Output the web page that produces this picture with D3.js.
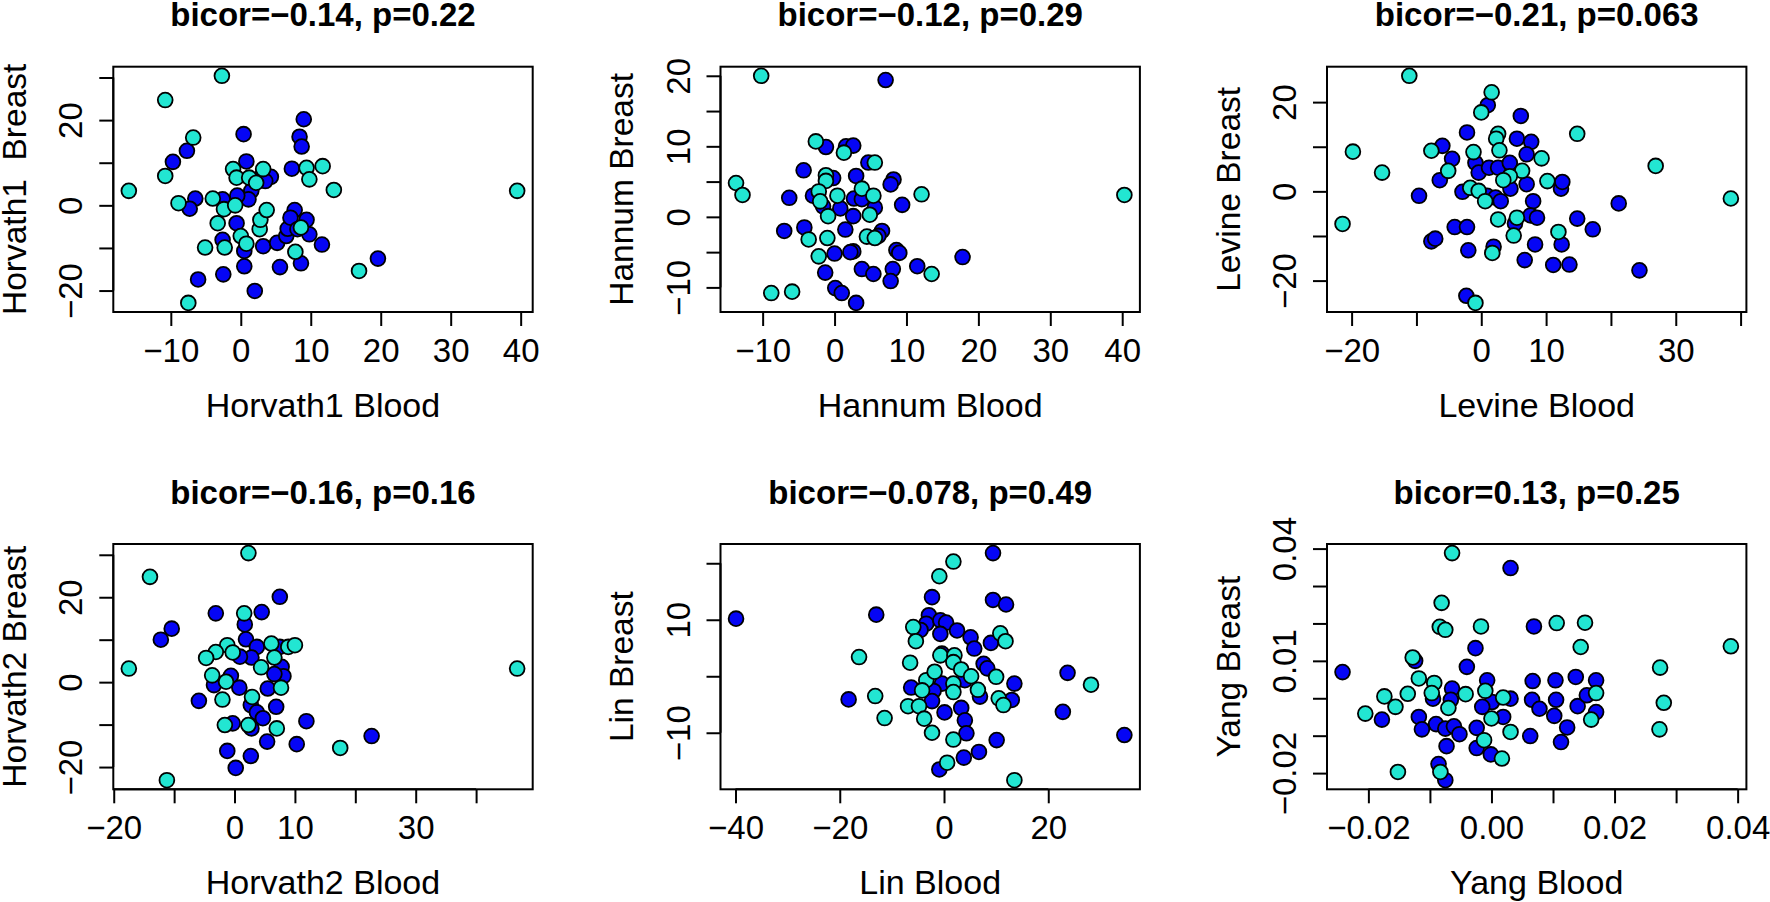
<!DOCTYPE html>
<html>
<head>
<meta charset="utf-8">
<script src="https://cdn.jsdelivr.net/npm/d3@7"></script>
<style>
  body { margin: 0; background: #fff; }
  text { font-family: "Liberation Sans", Arial, Helvetica, sans-serif; fill: #000; }
</style>
</head>
<body>
<div id="chart"></div>
<script>
    // values: [blood, breast]
    const horvath1Turq = [[-2.7,30.4],[-10.8,24.7],[-6.8,15.9],[-10.8,6.9],[-16.0,3.4],[-8.9,0.5],[-4.0,1.6],[-2.4,-0.9],[-0.8,0],[-3.3,-4.2],[-5.1,-9.9],[-2.3,-9.9],[-7.5,-22.9],[-1.1,8.5],[-0.6,6.5],[1.2,6.5],[2.2,5.3],[3.2,8.5],[0,-7.2],[0.8,-9.0],[2.7,-5.6],[2.8,-3.4],[3.7,-1.1],[9.4,8.8],[11.7,9.2],[9.8,6.1],[13.3,3.6],[7.8,-10.9],[16.9,-15.4],[39.5,3.4],[8.6,-5.2]];
    const horvath1Blue = [[9.0,20.2],[8.4,16.1],[8.7,13.8],[0.4,16.7],[-7.7,12.8],[-9.7,10.2],[0.8,10.3],[7.3,8.6],[3.2,7.7],[4.3,6.7],[3.5,5.7],[1.5,3.4],[1.1,1.4],[-0.5,2.3],[-6.5,1.6],[-7.3,-0.8],[-2.6,1.4],[-0.6,-4.2],[-2.6,-8.1],[0.5,-10.7],[0.5,-14.3],[-2.5,-16.2],[-6.1,-17.4],[2.0,-20.1],[3.2,-9.6],[5.2,-8.8],[5.6,-14.5],[6.5,-7.2],[6.7,-5.5],[7.7,-1.1],[7.1,-2.9],[8.1,-5.6],[9.4,-3.4],[9.8,-6.8],[11.6,-9.2],[8.6,-13.6],[19.6,-12.5]];

    const hannumTurq = [[-10.2,20.0],[-13.7,4.8],[-12.8,3.1],[-8.8,-10.8],[-5.9,-10.6],[-2.6,10.7],[1.3,9.1],[-1.2,5.9],[-1.2,5.1],[-2.2,3.6],[-2.0,2.2],[0.4,3.0],[-0.9,0.1],[3.8,4.0],[5.4,3.0],[4.9,0.3],[5.6,7.7],[-3.6,-3.2],[-1.0,-3.0],[-2.2,-5.6],[4.5,-2.8],[5.6,-3.0],[12.1,3.2],[13.5,-8.1],[40.3,3.1]];
    const hannumBlue = [[7.1,19.4],[-1.2,9.9],[1.6,10.0],[2.6,10.1],[-4.3,6.6],[-0.2,5.5],[3.0,5.8],[4.7,7.7],[8.2,5.3],[7.8,4.6],[9.4,1.7],[-6.3,2.7],[-3.0,3.0],[-1.6,1.5],[0.8,1.2],[2.7,2.6],[3.8,2.5],[5.6,1.3],[2.6,0.1],[-4.2,-1.5],[-7.0,-2.0],[1.5,-1.8],[6.6,-2.0],[6.1,-2.7],[0,-5.2],[2.6,-4.9],[2.2,-5.0],[8.6,-4.7],[9.0,-5.1],[-1.3,-7.9],[3.8,-7.4],[5.4,-8.1],[8.1,-7.4],[7.8,-9.1],[11.5,-7.0],[17.8,-5.7],[0.1,-10.1],[1.0,-10.8],[3.0,-12.2]];

    const levineTurq = [[-11.1,25.9],[-19.8,8.9],[-15.3,4.2],[-21.4,-7.3],[1.6,22.2],[0,17.7],[-7.7,9.1],[-5.1,4.6],[-1.2,8.8],[2.6,12.9],[2.3,11.8],[2.8,9.2],[9.3,7.4],[6.3,4.6],[4.4,3.4],[3.4,2.5],[10.2,2.3],[-1.7,0.8],[-0.4,0.1],[0.6,-2.2],[2.6,-6.3],[5.5,-5.9],[5.0,-9.9],[11.9,-9.1],[1.7,-13.8],[-0.9,-25.0],[14.8,12.9],[26.9,5.7],[38.5,-1.6]];
    const levineBlue = [[1.0,19.3],[6.1,16.9],[-2.2,13.2],[-6.0,10.2],[-4.5,7.3],[-6.4,2.5],[-9.6,-1.0],[-2.9,-0.1],[-0.9,6.4],[-0.4,4.2],[1.2,5.3],[2.6,5.3],[4.4,6.4],[5.5,11.8],[7.7,11.1],[7.0,8.3],[7.0,1.6],[4.5,0.6],[0.9,-1.0],[2.2,-1.4],[3.0,-2.2],[8.0,-2.2],[12.3,0.6],[12.5,2.1],[7.6,-5.4],[8.6,-5.9],[5.2,-7.2],[-4.1,-8.0],[-2.2,-8.0],[-7.7,-11.2],[-7.1,-10.6],[-2.0,-13.2],[1.9,-12.4],[8.3,-11.9],[12.4,-11.9],[6.7,-15.4],[11.1,-16.5],[13.6,-16.4],[14.8,-6.1],[17.2,-8.5],[21.2,-2.7],[24.4,-17.7],[-2.3,-23.4]];

    const horvath2Turq = [[2.3,30.4],[-14.0,24.8],[-17.5,3.2],[-11.2,-23.1],[1.6,16.2],[-1.2,8.7],[-0.3,7.0],[-3.1,7.1],[-4.7,5.7],[-3.7,1.6],[-1.4,0.1],[-2.0,-4.1],[-1.6,-10.1],[2.3,-10.1],[2.9,-3.5],[4.4,3.5],[6.1,9.1],[6.6,5.8],[8.9,8.3],[10.0,8.7],[7.7,-1.3],[7.0,-10.9],[17.5,-15.5],[46.8,3.2]];
    const horvath2Blue = [[7.5,20.1],[-3.1,16.2],[4.5,16.5],[-10.4,12.6],[-12.2,10.0],[1.7,13.6],[1.9,10.1],[3.7,8.3],[2.8,5.8],[0.9,6.0],[7.5,8.3],[7.8,3.6],[8.1,1.4],[6.6,1.9],[5.5,-1.5],[-0.6,1.5],[-3.4,-0.7],[0.8,-1.3],[-5.9,-4.4],[2.7,-5.4],[3.7,-7.1],[6.9,-5.8],[4.7,-8.5],[-0.3,-9.7],[2.8,-10.9],[11.9,-9.2],[5.4,-14.0],[10.3,-14.6],[-1.2,-16.2],[2.7,-17.4],[0.2,-20.2],[22.7,-12.7]];

    const linTurq = [[1.8,20.3],[-0.9,17.7],[-16.3,3.4],[-13.2,-3.5],[-11.4,-7.4],[-5.9,8.7],[-5.4,6.2],[-6.5,2.4],[-6.9,-5.3],[-4.8,-5.3],[-3.8,-7.5],[-2.3,-10.0],[-3.4,-0.7],[-1.8,0.8],[-4.2,-2.5],[-0.7,3.7],[2.0,3.7],[1.8,2.5],[3.3,1.2],[1.8,-1.3],[1.8,-2.8],[5.2,0],[6.5,-2.4],[10.0,-0.1],[10.8,7.6],[11.8,6.2],[10.5,-3.9],[11.4,-5.1],[1.8,-11.2],[0.6,-15.3],[13.5,-18.4],[28.2,-1.5]];
    const linBlue = [[9.4,21.8],[-39.9,10.2],[-13.0,10.9],[-18.3,-4.1],[-2.3,14.0],[9.4,13.5],[11.9,12.7],[-2.9,10.8],[-3.4,9.3],[-4.5,8.2],[-0.7,9.9],[0.4,9.5],[2.5,8.1],[-0.7,7.5],[5.1,6.9],[5.8,4.9],[9.0,5.9],[-0.4,4.0],[7.6,2.2],[8.3,1.4],[4.0,-0.7],[-0.4,-1.3],[-2.0,-2.6],[-6.3,-2.0],[-2.3,-4.4],[6.9,-3.6],[13.5,-1.3],[13.0,-4.2],[0.1,-6.4],[3.3,-5.6],[4.0,-7.8],[4.3,-10.1],[10.1,-11.3],[6.7,-13.4],[3.8,-14.4],[-0.9,-16.5],[23.7,0.6],[22.8,-6.3],[34.6,-10.4]];

    const yangTurq = [[-0.0064,0.0388],[-0.0081,0.0255],[-0.0084,0.0191],[-0.0075,0.0183],[-0.0017,0.0192],[0.0106,0.0201],[0.0152,0.0202],[0.0145,0.0137],[0.0389,0.0139],[0.0274,0.0082],[0.0280,-0.0012],[0.0273,-0.0083],[-0.0128,0.0109],[-0.0118,0.0053],[-0.0136,0.0012],[-0.0174,0.0005],[-0.0156,-0.0023],[-0.0205,-0.0041],[-0.0093,0.0041],[-0.0097,0.0014],[-0.0070,-0.0026],[-0.0042,0.0011],[-0.0010,0.0020],[0.0019,0.0002],[0,-0.0054],[0.0031,-0.0090],[-0.0012,-0.0112],[0.0017,-0.0161],[-0.0152,-0.0197],[-0.0083,-0.0197],[0.0170,0.0014],[0.0162,-0.0057]];
    const yangBlue = [[0.0031,0.0348],[0.0069,0.0192],[-0.0026,0.0134],[-0.0124,0.0100],[-0.0040,0.0084],[-0.0242,0.0070],[-0.0007,0.0048],[0.0067,0.0046],[0.0104,0.0048],[0.0137,0.0057],[0.0170,0.0048],[-0.0064,0.0026],[-0.0095,-0.0001],[-0.0066,-0.0004],[0.0001,-0.0010],[-0.0015,-0.0023],[0.0031,-0.0001],[0.0066,-0.0004],[0.0078,-0.0028],[0.0105,-0.0004],[0.0102,-0.0047],[0.0140,-0.0021],[0.0155,0.0008],[0.0170,-0.0037],[-0.0178,-0.0057],[-0.0118,-0.0050],[-0.0113,-0.0083],[-0.0090,-0.0069],[-0.0075,-0.0081],[-0.0061,-0.0075],[-0.0052,-0.0096],[-0.0024,-0.0079],[0.0019,-0.0050],[0.0063,-0.0101],[0.0123,-0.0078],[0.0113,-0.0117],[-0.0073,-0.0128],[-0.0024,-0.0133],[-0.0001,-0.0150],[-0.0086,-0.0176],[-0.0075,-0.0219]];

    const titles = ["bicor=\u22120.14, p=0.22", "bicor=\u22120.12, p=0.29", "bicor=\u22120.21, p=0.063",
                    "bicor=\u22120.16, p=0.16", "bicor=\u22120.078, p=0.49", "bicor=0.13, p=0.25"];
    const xLabels = ["Horvath1 Blood", "Hannum Blood", "Levine Blood", "Horvath2 Blood", "Lin Blood", "Yang Blood"];
    const yLabels = ["Horvath1  Breast", "Hannum Breast", "Levine Breast", "Horvath2 Breast", "Lin Breast", "Yang Breast"];

    // tick positions and the labels R actually printed ("" = tick without label)
    const xTicks = [[-10,0,10,20,30,40], [-10,0,10,20,30,40], [-20,-10,0,10,20,30,40],
                    [-20,-10,0,10,20,30,40], [-40,-20,0,20], [-0.02,-0.01,0,0.01,0.02,0.03,0.04]];
    const xTickLabels = [["\u221210","0","10","20","30","40"], ["\u221210","0","10","20","30","40"],
                         ["\u221220","","0","10","","30",""], ["\u221220","","0","10","","30",""],
                         ["\u221240","\u221220","0","20"], ["\u22120.02","","0.00","","0.02","","0.04"]];
    const yTicks = [[-20,-10,0,10,20,30], [-10,-5,0,5,10,15,20], [-20,-10,0,10,20],
                    [-20,-10,0,10,20,30], [-10,0,10,20], [-0.02,-0.01,0,0.01,0.02,0.03,0.04]];
    const yTickLabels = [["\u221220","","0","","20",""], ["\u221210","","0","","10","","20"],
                         ["\u221220","","0","","20"], ["\u221220","","0","","20",""],
                         ["\u221210","","10",""], ["\u22120.02","","","0.01","","","0.04"]];

    const turqSets = [horvath1Turq, hannumTurq, levineTurq, horvath2Turq, linTurq, yangTurq];
    const blueSets = [horvath1Blue, hannumBlue, levineBlue, horvath2Blue, linBlue, yangBlue];

    const width = 1770, height = 902;
    const colLeft = [113.3, 720.5, 1327];
    const rowTop = [66.7, 544];
    const boxW = 419.4, boxH = 245.3;

    const svg = d3.select("#chart")
        .append("svg")
        .attr("width", width)
        .attr("height", height);

    // R style axis range: data extent widened by 4% each side
    function padded(ext) {
        const d = (ext[1] - ext[0]) * 0.04;
        return [ext[0] - d, ext[1] + d];
    }

    titles.forEach(function(title, i) {
        const g = svg.append("g")
            .attr("transform", "translate(" + colLeft[i % 3] + "," + rowTop[Math.floor(i / 3)] + ")");

        const all = turqSets[i].concat(blueSets[i]);
        const x = d3.scaleLinear().domain(padded(d3.extent(all, d => d[0]))).range([0, boxW]);
        const y = d3.scaleLinear().domain(padded(d3.extent(all, d => d[1]))).range([boxH, 0]);

        // x axis
        const gx = g.append("g")
            .attr("transform", "translate(0," + boxH + ")")
            .call(d3.axisBottom(x).tickValues(xTicks[i]).tickSize(14)
                .tickFormat((d, j) => xTickLabels[i][j]));
        gx.select(".domain").remove();
        gx.selectAll(".tick line").attr("stroke", "#000").attr("stroke-width", 2);
        gx.selectAll(".tick text").attr("y", 49.5).attr("dy", 0)
            .style("font-size", "33px").style("fill", "#000");
        gx.append("line")
            .attr("x1", x(xTicks[i][0])).attr("x2", x(xTicks[i][xTicks[i].length - 1]))
            .attr("stroke", "#000").attr("stroke-width", 2);

        // y axis, labels parallel to the axis
        const gy = g.append("g")
            .call(d3.axisLeft(y).tickValues(yTicks[i]).tickSize(14)
                .tickFormat((d, j) => yTickLabels[i][j]));
        gy.select(".domain").remove();
        gy.selectAll(".tick line").attr("stroke", "#000").attr("stroke-width", 2);
        gy.selectAll(".tick text")
            .attr("x", 0).attr("y", -31).attr("dy", 0)
            .attr("transform", "rotate(-90)")
            .attr("text-anchor", "middle")
            .style("font-size", "33px").style("fill", "#000");
        gy.append("line")
            .attr("y1", y(yTicks[i][0])).attr("y2", y(yTicks[i][yTicks[i].length - 1]))
            .attr("stroke", "#000").attr("stroke-width", 2);

        // points
        const pts = g.append("g");
        pts.selectAll("circle.b")
            .data(blueSets[i])
            .join("circle")
            .attr("class", "b")
            .attr("cx", d => x(d[0]))
            .attr("cy", d => y(d[1]))
            .attr("r", 7.4)
            .attr("fill", "#0505f5")
            .attr("stroke", "#000")
            .attr("stroke-width", 1.8);
        pts.selectAll("circle.t")
            .data(turqSets[i])
            .join("circle")
            .attr("class", "t")
            .attr("cx", d => x(d[0]))
            .attr("cy", d => y(d[1]))
            .attr("r", 7.4)
            .attr("fill", "#22e6d2")
            .attr("stroke", "#000")
            .attr("stroke-width", 1.8);

        // box
        g.append("rect")
            .attr("width", boxW).attr("height", boxH)
            .attr("fill", "none").attr("stroke", "#000").attr("stroke-width", 2);

        // title and axis titles
        g.append("text")
            .attr("x", boxW / 2).attr("y", -40.5)
            .attr("text-anchor", "middle")
            .style("font-size", "33px").style("font-weight", "bold")
            .text(title);
        g.append("text")
            .attr("x", boxW / 2).attr("y", boxH + 104.7)
            .attr("text-anchor", "middle")
            .style("font-size", "34px")
            .text(xLabels[i]);
        g.append("text")
            .attr("transform", "translate(-87.5," + (boxH / 2) + ") rotate(-90)")
            .attr("text-anchor", "middle")
            .style("font-size", "33.5px")
            .style("white-space", "pre")
            .text(yLabels[i]);
    });
</script>
</body>
</html>
